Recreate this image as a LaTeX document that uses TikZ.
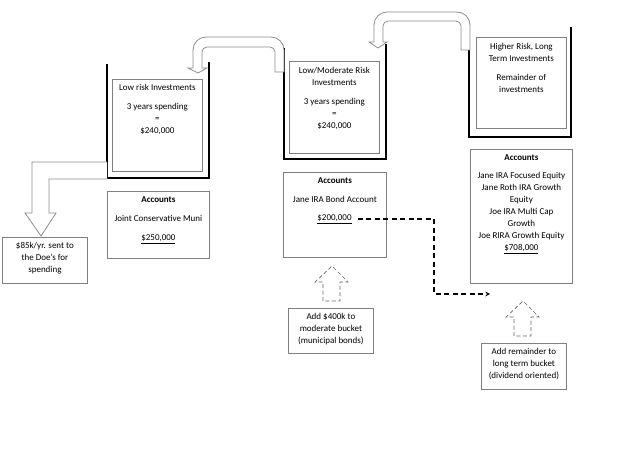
\documentclass[tikz,border=0pt]{standalone}
\usepackage{fontspec}
\setmainfont{Carlito}
\usetikzlibrary{positioning}
\begin{document}
\begin{tikzpicture}[x=1pt,y=-1pt,>=stealth,
  wall/.style={line width=1.2pt,black},
  frame/.style={draw=black!50,line width=0.8pt,inner sep=0pt,anchor=north west},
  txt/.style={align=center,inner sep=0pt,anchor=north,font=\fontsize{9}{12}\selectfont},
  blockarrow/.style={draw=black!45,line width=0.8pt,fill=white},
  dasharrow/.style={draw=black!60,line width=0.7pt,dash pattern=on 4pt off 2.5pt}]
\useasboundingbox (0,0) rectangle (640,452);

% buckets
\draw[wall](107,64)--(107,178)--(209,178)--(209,62);
\draw[wall](284,48)--(284,159)--(386,159)--(386,44);
\draw[wall](469,50)--(469,137)--(571,137)--(571,27);

% bent arrow out of the low risk bucket
\draw[blockarrow](107,162)--(32,162)--(32,213)--(25,213)--(41,236)--(56,213)--(49,213)--(49,179)--(107,179);

% u-turn arrows between the buckets
\draw[blockarrow](284,72)--(284,50) arc (0:-90:13)--(206,37) arc (-90:-180:13)--(193,68)--(188,68)--(198,73)--(207,68)--(202,68)--(202,52) arc (-180:-90:5)--(270,47) arc (-90:0:5)--(275,72)--cycle;
\draw[blockarrow](470,50)--(470,25) arc (0:-90:13)--(387,12) arc (-90:-180:13)--(374,42)--(369,42)--(378,48)--(387,42)--(383,42)--(383,26) arc (-180:-90:5)--(456,21) arc (-90:0:5)--(461,50)--cycle;

% inside the buckets
\node[frame,minimum width=90,minimum height=92](low) at (112,79){};
\node[txt,below=5.5pt of low.north](lowtxt){Low risk Investments\\[7pt]3 years spending\\=\\\$240,000};
\node[frame,minimum width=90,minimum height=92](mod) at (289,61){};
\node[txt,below=6pt of mod.north](modtxt){Low/Moderate Risk\\Investments\\[7pt]3 years spending\\=\\\$240,000};
\node[frame,minimum width=90,minimum height=91](high) at (476,37){};
\node[txt,below=6pt of high.north](hightxt){Higher Risk, Long\\Term Investments\\[7pt]Remainder of\\investments};

% accounts
\node[frame,minimum width=102,minimum height=67](lowacc) at (107,191){};
\node[txt,below=5.5pt of lowacc.north](lowacctxt){\textbf{Accounts}\\[7pt]Joint Conservative Muni\\[7pt]\underline{\$250,000}};
\node[frame,minimum width=103,minimum height=85](modacc) at (283,172){};
\node[txt,below=5.5pt of modacc.north](modacctxt){\textbf{Accounts}\\[7pt]Jane IRA Bond Account};
\node[txt,anchor=center](modamt) at (334.5,219){\underline{\$200,000}};
\node[frame,minimum width=102,minimum height=134](highacc) at (470,149){};
\node[txt,below=5.5pt of highacc.north](highacctxt){\textbf{Accounts}\\[6pt]Jane IRA Focused Equity\\Jane Roth IRA Growth\\Equity\\Joe IRA Multi Cap\\Growth\\Joe RIRA Growth Equity\\\underline{\$708,000}};

% notes
\node[frame,minimum width=85,minimum height=46](spend) at (2,237){};
\node[txt,below=5.5pt of spend.north](spendtxt){\$85k/yr. sent to\\the Doe’s for\\spending};
\node[frame,minimum width=85,minimum height=45](addmod) at (288,308){};
\node[txt,below=5.5pt of addmod.north](addmodtxt){Add \$400k to\\moderate bucket\\(municipal bonds)};
\node[frame,minimum width=85,minimum height=46](addhigh) at (481,343){};
\node[txt,below=5.5pt of addhigh.north](addhightxt){Add remainder to\\long term bucket\\(dividend oriented)};

% dashed up arrows
\draw[dasharrow](323,301)--(323,282)--(315,282)--(332,266)--(348,282)--(340,282)--(340,301)--cycle;
\draw[dasharrow](514,336)--(514,317)--(506,317)--(523,301)--(539,317)--(531,317)--(531,336)--cycle;

% dashed connector
\coordinate(bend) at (434,294);
\coordinate(dashend) at (490,294);
\draw[->,line width=1.1pt,dash pattern=on 5pt off 3.5pt,shorten <=6pt](modamt.east)-|(bend)--(dashend);
\end{tikzpicture}
\end{document}
